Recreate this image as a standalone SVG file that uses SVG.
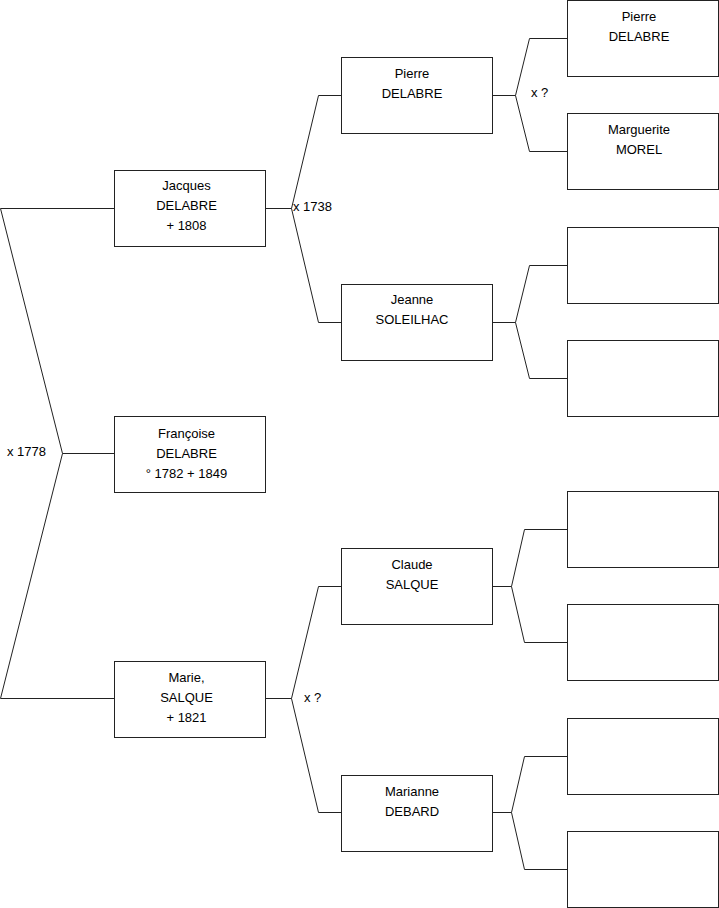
<svg xmlns="http://www.w3.org/2000/svg" width="719" height="908" viewBox="0 0 719 908">
<style>
.box{fill:#fff;stroke:#222;stroke-width:1}
.ln{fill:none;stroke:#222;stroke-width:1}
text{font-family:"Liberation Sans",Arial,sans-serif;font-size:13px;fill:#000}
.c{text-anchor:middle}
</style>
<rect width="719" height="908" fill="#fff"/>
<g id="connectors">
<polyline class="ln" points="114.5,208.5 0.5,208.5 62.5,453.5 0.5,698.5 114.5,698.5"/>
<line class="ln" x1="62.5" y1="453.5" x2="114.5" y2="453.5"/>
<polyline class="ln" points="341.5,95.5 318.5,95.5 291.5,208.5 318.5,322.5 341.5,322.5"/>
<line class="ln" x1="265.5" y1="208.5" x2="291.5" y2="208.5"/>
<polyline class="ln" points="567.5,38.5 529.5,38.5 515.5,95.5 529.5,151.5 567.5,151.5"/>
<line class="ln" x1="492.5" y1="95.5" x2="515.5" y2="95.5"/>
<polyline class="ln" points="567.5,265.5 529.5,265.5 515.5,322.5 529.5,378.5 567.5,378.5"/>
<line class="ln" x1="492.5" y1="322.5" x2="515.5" y2="322.5"/>
<polyline class="ln" points="341.5,586.5 318.5,586.5 291.5,698.5 318.5,812.5 341.5,812.5"/>
<line class="ln" x1="265.5" y1="698.5" x2="291.5" y2="698.5"/>
<polyline class="ln" points="567.5,529.5 524.5,529.5 511.5,586.5 524.5,642.5 567.5,642.5"/>
<line class="ln" x1="492.5" y1="586.5" x2="511.5" y2="586.5"/>
<polyline class="ln" points="567.5,756.5 524.5,756.5 511.5,812.5 524.5,869.5 567.5,869.5"/>
<line class="ln" x1="492.5" y1="812.5" x2="511.5" y2="812.5"/>
<text x="7" y="456">x 1778</text>
<text x="293" y="211">x 1738</text>
<text x="531" y="97">x ?</text>
<text x="304" y="702">x ?</text>
</g>
<g id="jacques"><rect class="box" x="114.5" y="170.5" width="151" height="76"/>
<text class="c" x="186.5" y="190">Jacques</text><text class="c" x="186.5" y="210">DELABRE</text><text class="c" x="186.5" y="230">+ 1808</text></g>
<g id="francoise"><rect class="box" x="114.5" y="416.5" width="151" height="76"/>
<text class="c" x="186.5" y="438">Françoise</text><text class="c" x="186.5" y="458">DELABRE</text><text class="c" x="186.5" y="478">° 1782 + 1849</text></g>
<g id="marie"><rect class="box" x="114.5" y="661.5" width="151" height="76"/>
<text class="c" x="186.5" y="682">Marie,</text><text class="c" x="186.5" y="702">SALQUE</text><text class="c" x="186.5" y="722">+ 1821</text></g>
<g id="pierre1"><rect class="box" x="341.5" y="57.5" width="151" height="76"/>
<text class="c" x="412" y="78">Pierre</text><text class="c" x="412" y="98">DELABRE</text></g>
<g id="jeanne"><rect class="box" x="341.5" y="284.5" width="151" height="76"/>
<text class="c" x="412" y="304">Jeanne</text><text class="c" x="412" y="324">SOLEILHAC</text></g>
<g id="claude"><rect class="box" x="341.5" y="548.5" width="151" height="76"/>
<text class="c" x="412" y="569">Claude</text><text class="c" x="412" y="589">SALQUE</text></g>
<g id="marianne"><rect class="box" x="341.5" y="775.5" width="151" height="76"/>
<text class="c" x="412" y="796">Marianne</text><text class="c" x="412" y="816">DEBARD</text></g>
<g id="pierre2"><rect class="box" x="567.5" y="0.5" width="151" height="76"/>
<text class="c" x="639" y="21">Pierre</text><text class="c" x="639" y="41">DELABRE</text></g>
<g id="marguerite"><rect class="box" x="567.5" y="113.5" width="151" height="76"/>
<text class="c" x="639" y="134">Marguerite</text><text class="c" x="639" y="154">MOREL</text></g>
<g id="p3"><rect class="box" x="567.5" y="227.5" width="151" height="76"/></g>
<g id="p4"><rect class="box" x="567.5" y="340.5" width="151" height="76"/></g>
<g id="p5"><rect class="box" x="567.5" y="491.5" width="151" height="76"/></g>
<g id="p6"><rect class="box" x="567.5" y="604.5" width="151" height="76"/></g>
<g id="p7"><rect class="box" x="567.5" y="718.5" width="151" height="76"/></g>
<g id="p8"><rect class="box" x="567.5" y="831.5" width="151" height="76"/></g>
</svg>
